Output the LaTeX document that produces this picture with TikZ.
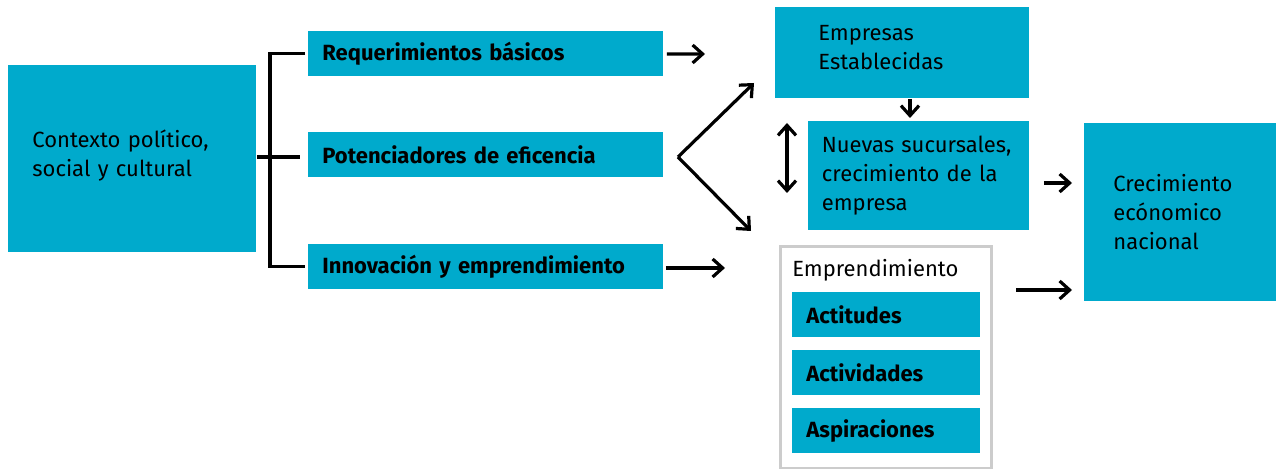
\documentclass[tikz,border=0pt]{standalone}
\usepackage{fontspec}
\setmainfont{Fira Sans}
\usetikzlibrary{arrows.meta}
\definecolor{gemcyan}{RGB}{0,170,204}
\definecolor{framegray}{RGB}{204,204,204}

\begin{document}
\begin{tikzpicture}[%
    x=0.5pt, y=-0.5pt,
    >={Straight Barb[length=5pt, width=9pt]},
    every node/.style = {font=\fontsize{11}{14.5}\selectfont},
    box/.style = {fill=gemcyan, anchor=north west, align=left, inner ysep=0pt},
    pillar/.style = {box, font=\fontsize{11}{14.5}\selectfont\bfseries,
        text width=163.5pt, inner xsep=7pt, minimum height=22.5pt},
    facet/.style = {box, font=\fontsize{11}{14.5}\selectfont\bfseries,
        text width=80pt, inner xsep=7pt, minimum height=22.5pt},
    link/.style = {draw, line width=1.6pt},
    every edge/.style = {draw, line width=1.6pt, ->}
]
\useasboundingbox (0,0) rectangle (1276,469);

\node (contexto) [box, text width=100pt, inner xsep=12pt, minimum height=93.5pt]
    at (8,65) {Contexto político,\\social y cultural\\[-8.5pt]\mbox{}};
\foreach \y/\name/\txt in {31/p1/Requerimientos básicos,
                           132/p2/Potenciadores de eficencia,
                           244/p3/Innovación y emprendimiento} {
    \node (\name) [pillar] at (308,\y) {\txt};
}

\node (emp) [box, text width=84pt, inner xsep=21.5pt, minimum height=45.5pt]
    at (775,7) {Empresas\\Establecidas\\[-9.5pt]\mbox{}};
\node (nuevas) [box, text width=97pt, inner xsep=6.75pt, minimum height=54.5pt]
    at (808,121) {Nuevas sucursales,\\crecimiento de la\\empresa};
\node (crec) [box, text width=67pt, inner xsep=14.5pt, minimum height=89pt]
    at (1084,123) {Crecimiento\\ecónomico\\nacional};

\node (ebox) [draw=framegray, line width=1.5pt, anchor=north west,
    minimum width=105.5pt, minimum height=111pt] at (779,245) {};
\node (elabel) [anchor=base west, inner sep=0pt] at (792,277) {Emprendimiento};
\foreach \y/\name/\txt in {292/f1/Actitudes, 350/f2/Actividades, 408/f3/Aspiraciones} {
    \node (\name) [facet] at (792,\y) {\txt};
}

% bracket from the context to the three pillars
\coordinate (bus) at (270,157);
\path[link, shorten <=1.5pt, shorten >=1.5pt] (p1.west) -| (bus) |- (p3.west);
\path[link] (contexto.east |- bus) -- ([xshift=-4pt]p2.west |- bus);

\coordinate (fork) at (678,157);
\coordinate (forkup) at (754,83);
\coordinate (forkdown) at (751,231);
\coordinate (reqend) at (705,54);
\coordinate (innend) at (725,268);
\coordinate (sizeup) at (787,123);
\coordinate (sizedown) at (787,193);
\coordinate (empdown) at (910,118);

\path
    (p1) edge [shorten <=1.5pt] (reqend)
    (p3.east |- innend) edge [shorten <=1pt] (innend)
    (fork) edge (forkup)
           edge (forkdown)
    (sizeup) edge [<->] (sizedown)
    (emp.south -| empdown) edge (empdown)
    (nuevas.east |- 0,183) edge [shorten <=7pt, shorten >=6pt] (crec.west |- 0,183)
    (ebox.east |- 0,290) edge [shorten <=11.5pt, shorten >=6pt] (crec.west |- 0,290)
    ;
\end{tikzpicture}
\end{document}
